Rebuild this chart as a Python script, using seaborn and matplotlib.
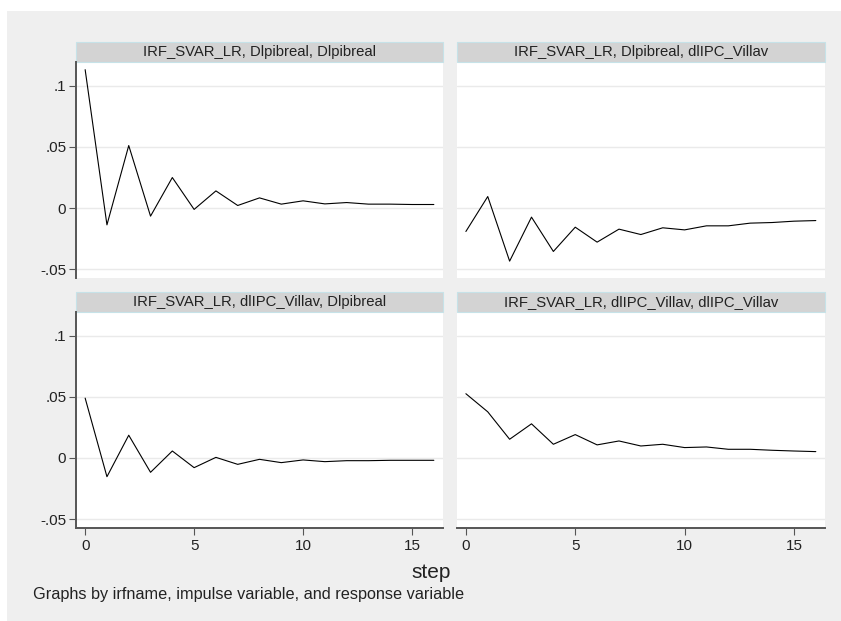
import numpy as np
import pandas as pd
import matplotlib
matplotlib.use("Agg")
import matplotlib.pyplot as plt
import seaborn as sns
from matplotlib.patches import Rectangle

# IRF values, steps 0..16
steps = list(range(17))
irf_pib_pib = [0.113, -0.0136, 0.0511, -0.0065, 0.025, -0.001, 0.0141, 0.0022, 0.0084,
               0.0033, 0.006, 0.0035, 0.0046, 0.0033, 0.0033, 0.003, 0.003]
irf_pib_ipc = [-0.019, 0.0095, -0.0432, -0.0073, -0.0353, -0.0155, -0.0277, -0.0171, -0.0215,
               -0.016, -0.0177, -0.0144, -0.0144, -0.0122, -0.0117, -0.0106, -0.0101]
irf_ipc_pib = [0.0489, -0.0153, 0.0186, -0.0117, 0.0057, -0.0079, 0.0005, -0.0052, -0.0011,
               -0.0038, -0.0016, -0.003, -0.0022, -0.0022, -0.0019, -0.0019, -0.0019]
irf_ipc_ipc = [0.0525, 0.0377, 0.0153, 0.0279, 0.0112, 0.0191, 0.0107, 0.0139, 0.0098,
               0.0112, 0.0085, 0.009, 0.0071, 0.0071, 0.0063, 0.0057, 0.0052]

titles = ["IRF_SVAR_LR, Dlpibreal, Dlpibreal",
          "IRF_SVAR_LR, Dlpibreal, dlIPC_Villav",
          "IRF_SVAR_LR, dlIPC_Villav, Dlpibreal",
          "IRF_SVAR_LR, dlIPC_Villav, dlIPC_Villav"]
series = [irf_pib_pib, irf_pib_ipc, irf_ipc_pib, irf_ipc_ipc]
y_ticks = [-0.05, 0, 0.05, 0.1]
y_labels = ["-.05", "0", ".05", ".1"]
x_ticks = [0, 5, 10, 15]

sns.set_style("white")
plt.rcParams["font.family"] = ["Liberation Sans", "DejaVu Sans"]

W, H = 841, 621
fig = plt.figure(figsize=(W / 100, H / 100), dpi=100, facecolor="white")
# gray graph region
fig.patches.append(Rectangle((7 / W, 0), 1, 1 - 11 / H, transform=fig.transFigure,
                             facecolor="#efefef", edgecolor="none", zorder=-10))

cols = [(76, 443), (456.7, 825)]
rows = [(61.7, 278.3), (311.7, 528)]
strip_h = 19.5

for i, (title, vals) in enumerate(zip(titles, series)):
    r, c = divmod(i, 2)
    x0, x1 = cols[c]
    y0, y1 = rows[r]
    ax = fig.add_axes([x0 / W, 1 - y1 / H, (x1 - x0) / W, (y1 - y0) / H])
    ax.set_facecolor("white")
    df = pd.DataFrame({"step": steps, "irf": vals})
    sns.lineplot(data=df, x="step", y="irf", ax=ax, color="black", linewidth=0.8)
    ax.set_xlim(-0.42, 16.42)
    ax.set_ylim(-0.0572, 0.1195)
    ax.set_yticks(y_ticks)
    for yt in y_ticks:
        ax.axhline(yt, color="#eaeaea", linewidth=1.0, zorder=0)
    ax.set_xlabel("")
    ax.set_ylabel("")
    for s in ["top", "right", "left", "bottom"]:
        ax.spines[s].set_visible(False)
    if c == 0:
        ax.spines["left"].set_visible(True)
        ax.spines["left"].set_color("#555555")
        ax.spines["left"].set_linewidth(1.4)
        ax.set_yticklabels(y_labels)
        ax.tick_params(axis="y", length=5, width=0.8, color="#555555", labelsize=11,
                       labelcolor="#222222", left=True, pad=2)
    else:
        ax.tick_params(axis="y", left=False, labelleft=False)
    if r == 1:
        ax.spines["bottom"].set_visible(True)
        ax.spines["bottom"].set_color("#555555")
        ax.spines["bottom"].set_linewidth(1.4)
        ax.set_xticks(x_ticks)
        ax.tick_params(axis="x", length=5, width=0.8, color="#555555", labelsize=11,
                       labelcolor="#222222", bottom=True, pad=3)
    else:
        ax.set_xticks(x_ticks)
        ax.tick_params(axis="x", bottom=False, labelbottom=False)
    # strip title
    sh = strip_h / (y1 - y0)
    ax.add_patch(Rectangle((0, 1), 1, sh, transform=ax.transAxes, clip_on=False,
                           facecolor="#d3d3d3", edgecolor="#c6e2e8", linewidth=0.8))
    ax.text(0.5, 1 + sh / 2, title, transform=ax.transAxes, ha="center", va="center",
            fontsize=10.7, color="#222222")

fig.text(431 / W, 1 - 572 / H, "step", ha="center", va="center", fontsize=15, color="#222222")
fig.text(33 / W, 1 - 594 / H, "Graphs by irfname, impulse variable, and response variable",
         ha="left", va="center", fontsize=11.7, color="#222222")

fig.savefig("out.png", dpi=100, facecolor="white")
